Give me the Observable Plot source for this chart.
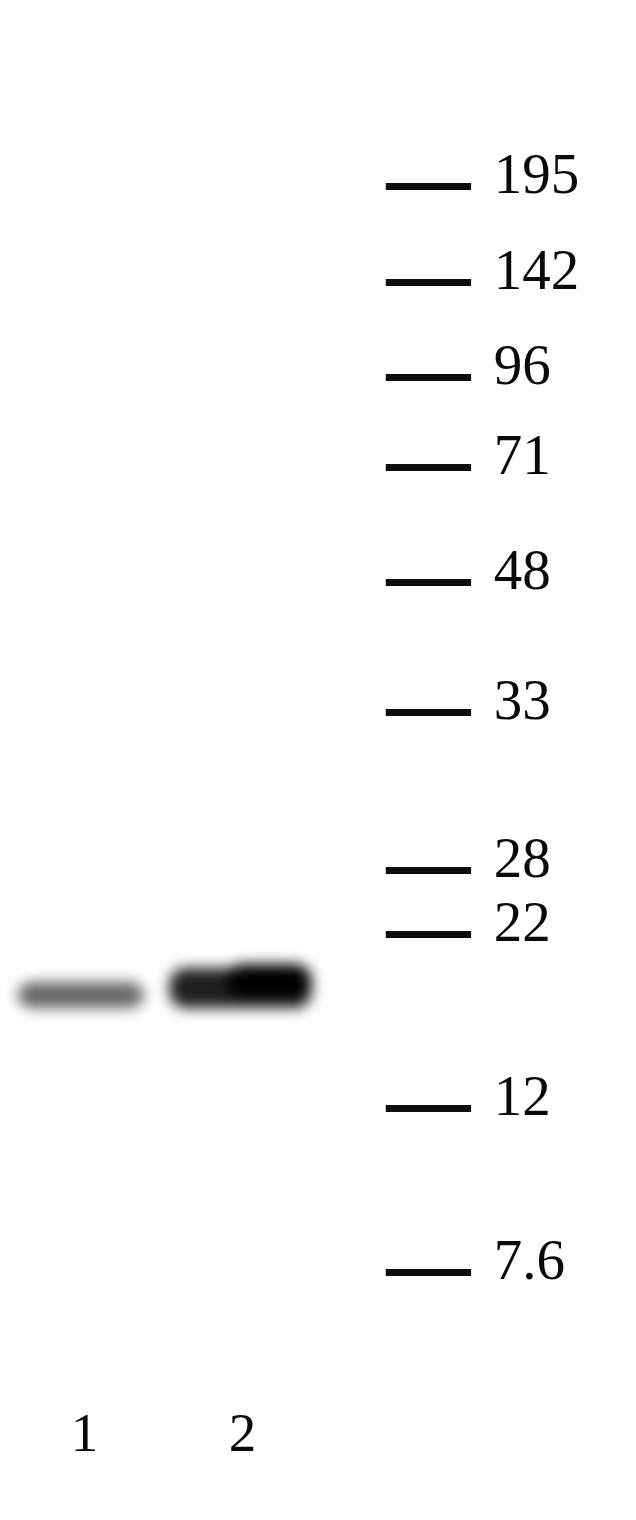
<!DOCTYPE html>
<html>
<head>
<meta charset="utf-8">
<script src="https://cdn.jsdelivr.net/npm/d3@7"></script>
<script src="https://cdn.jsdelivr.net/npm/@observablehq/plot@0.6"></script>
<style>
  html, body { margin: 0; padding: 0; background: #fff; }
  #chart svg { display: block; }
</style>
</head>
<body>
<div id="chart"></div>
<script>
// Molecular weight marker ladder (kDa) and migration distance (mm from top)
const markerLabels = ["195", "142", "96", "71", "48", "33", "28", "22", "12", "7.6"];
const markerMigration = [18.6, 28.2, 37.7, 46.7, 58.2, 71.2, 87.0, 93.4, 110.8, 127.2];

// Lanes
const laneLabels = ["1", "2"];
const lanePositions = [1, 2];
const markerLane = 3.18;

// Detected band layers: a full-width base per lane, plus the dense core of lane 2
const bandLane = [1, 2, 2];
const bandLayer = ["base", "base", "core"];
const bandMigration = [99.5, 98.8, 98.1];   // band centre, mm
const bandThickness = [2.6, 4.0, 3.4];      // mm
const bandIntensity = [0.6, 0.88, 1.0];

const markers = markerLabels.map((label, i) => ({label, y: markerMigration[i]}));
const lanes = laneLabels.map((label, i) => ({label, x: lanePositions[i]}));
const bands = bandLane.map((lane, i) => ({
  lane, layer: bandLayer[i], y: bandMigration[i], t: bandThickness[i], v: bandIntensity[i]
}));

const halfLeft = d => d.layer === "core" ? -0.1 : (d.lane === 1 ? -0.42 : -0.46);
const halfRight = d => d.lane === 1 ? 0.38 : 0.44;

const plot = Plot.plot({
  width: 636,
  height: 1520,
  marginTop: 0, marginRight: 0, marginBottom: 0, marginLeft: 0,
  x: {domain: [1, 2], range: [84, 242], axis: null},
  y: {domain: [0, 152], range: [0, 1520], axis: null},
  style: {background: "#fff"},
  marks: [
    Plot.rect(bands, {
      x1: d => d.lane + halfLeft(d),
      x2: d => d.lane + halfRight(d),
      y1: d => d.y - d.t / 2,
      y2: d => d.y + d.t / 2,
      fill: "black",
      fillOpacity: d => d.v,
      rx: 16
    }),
    Plot.ruleY(markers, {
      y: "y",
      x1: markerLane - 0.27,
      x2: markerLane + 0.27,
      stroke: "#0d0d0d",
      strokeWidth: 7
    }),
    Plot.text(markers, {
      y: "y",
      x: markerLane + 0.41,
      text: "label",
      textAnchor: "start",
      lineAnchor: "bottom",
      dy: 6,
      fontSize: 57,
      fontFamily: "Liberation Serif",
      fill: "#0a0a0a"
    }),
    Plot.text(lanes, {
      x: "x",
      y: 145,
      text: "label",
      lineAnchor: "bottom",
      fontSize: 55,
      fontFamily: "Liberation Serif",
      fill: "#0a0a0a"
    })
  ]
});

plot.querySelectorAll('g[aria-label="rect"]').forEach(g => {
  g.style.filter = "blur(7px)";
});

document.getElementById("chart").appendChild(plot);
</script>
</body>
</html>
